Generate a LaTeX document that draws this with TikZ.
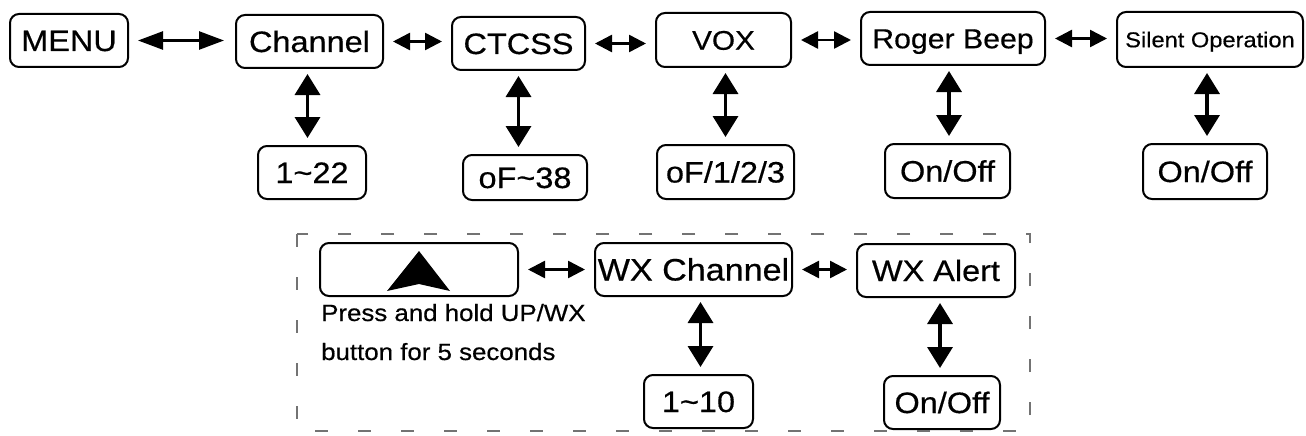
\documentclass[tikz,border=0pt]{standalone}
\usepackage{fontspec}
\setmainfont[FakeStretch=1.1,FakeBold=0.5]{Liberation Sans}
\usetikzlibrary{arrows.meta}
\begin{document}
\begin{tikzpicture}[x=1pt,y=-1pt,
  box/.style 2 args={draw, line width=2pt, rounded corners=9pt, inner sep=0pt,
    minimum width=#1pt, minimum height=#2pt, font=\fontsize{29.5}{31}\selectfont,
    text height=21pt, text depth=0pt},
  harrow/.style={line width=2.5pt, {Triangle[length=17pt,width=17pt]}-{Triangle[length=17pt,width=17pt]},
    shorten <=9pt, shorten >=9pt},
  bigharrow/.style={line width=2.5pt, {Triangle[length=25pt,width=18pt]}-{Triangle[length=25pt,width=18pt]},
    shorten <=9pt, shorten >=11pt},
  varrow/.style={line width=3.5pt, {Triangle[length=21pt,width=25pt]}-{Triangle[length=21pt,width=25pt]},
    shorten <=5pt, shorten >=7pt},
  frame/.style={draw=black!55, line width=1.6pt, dash pattern=on 13pt off 30pt},
  notetext/.style={align=left, inner sep=0pt, font=\fontsize{23.5}{39}\selectfont}]
\fill[white] (0,0) rectangle (1306,436);
\useasboundingbox (0,0) rectangle (1306,436);

% top row
\node[box={118}{53}] (menu) at (69,40.5) {MENU};
\node[box={147}{53}] (chan) at (309.5,41.5) {Channel};
\node[box={133}{53}] (ctcss) at (518.5,43.5) {CTCSS};
\node[box={135}{54}, font=\fontsize{27}{29}\selectfont, text height=19.5pt] (vox) at (723.5,40) {VOX};
\node[box={184}{53}, font=\fontsize{27.5}{29}\selectfont, text height=19.5pt] (roger) at (953,38.5) {Roger Beep};
\node[box={186}{55}, font=\fontsize{21.5}{24}\selectfont, text height=15.5pt] (silent) at (1210,39.5) {Silent Operation};

% value row
\node[box={108}{53}] (v1) at (312,172.5) {1\textasciitilde22};
\node[box={124}{45}] (v2) at (525,177.5) {oF\textasciitilde38};
\node[box={137}{54}] (v3) at (725.5,172) {oF/1/2/3};
\node[box={125}{54}] (v4) at (947.5,171) {On/Off};
\node[box={124}{55}] (v5) at (1205,171.5) {On/Off};

% WX section
\node[box={198}{53}] (up) at (419,269.5) {};
\fill (419,251) -- (450,291) -- (419,284) -- (387,291) -- cycle;
\node[box={197}{53}, font=\fontsize{31}{33}\selectfont, text height=22pt] (wxch) at (693.5,269.5) {WX Channel};
\node[box={158}{53}] (wxal) at (936,270.5) {WX Alert};
\node[box={109}{53}] (v6) at (698.5,401.5) {1\textasciitilde10};
\node[box={116}{53}] (v7) at (942,402.5) {On/Off};
\node[notetext, anchor=base west] (note) at (321,360) {Press and hold UP/WX\\button for 5 seconds};

\draw[frame] (297,234) rectangle (1030,431);

% horizontal connectors
\draw[bigharrow] (menu.east) -- (menu.east -| chan.west);
\draw[harrow] (chan.east) -- (chan.east -| ctcss.west);
\draw[harrow] (ctcss.east) -- (ctcss.east -| vox.west);
\draw[harrow] (vox.east) -- (vox.east -| roger.west);
\draw[harrow] (roger.east) -- (roger.east -| silent.west);
\draw[harrow] (up.east) -- (up.east -| wxch.west);
\draw[harrow] (wxch.east) -- (wxch.east -| wxal.west);

% vertical connectors
\draw[varrow] ([xshift=-2pt]chan.south) -- ([xshift=-2pt]chan.south |- v1.north);
\draw[varrow] (ctcss.south) -- (ctcss.south |- v2.north);
\draw[varrow] ([xshift=2pt]vox.south) -- ([xshift=2pt]vox.south |- v3.north);
\draw[varrow] ([xshift=-4pt]roger.south) -- ([xshift=-4pt]roger.south |- v4.north);
\draw[varrow] ([xshift=-3pt]silent.south) -- ([xshift=-3pt]silent.south |- v5.north);
\draw[varrow] ([xshift=7pt]wxch.south) -- ([xshift=7pt]wxch.south |- v6.north);
\draw[varrow] ([xshift=4pt]wxal.south) -- ([xshift=4pt]wxal.south |- v7.north);
\end{tikzpicture}
\end{document}
